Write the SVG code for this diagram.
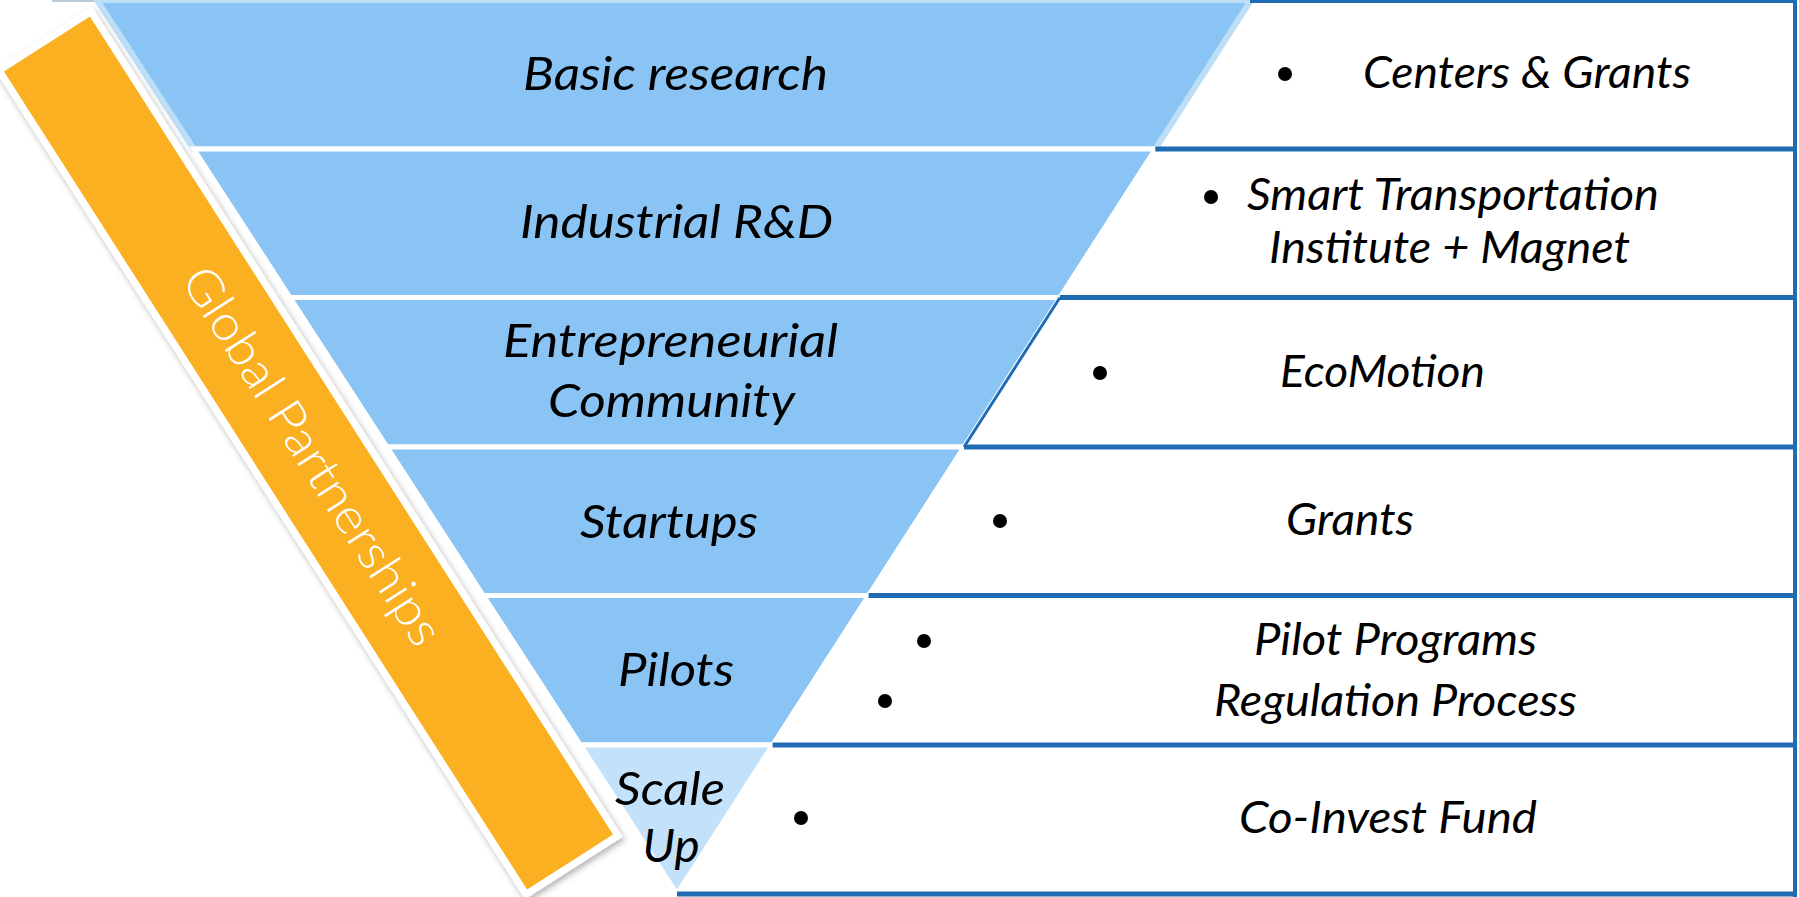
<svg xmlns="http://www.w3.org/2000/svg" width="1799" height="897" viewBox="0 0 1799 897">
<defs>
<style>
.band{fill:#89C4F4;stroke:#FFFFFF;stroke-width:5;stroke-linejoin:miter}
.lbl{font-family:Lato,"Open Sans","Liberation Sans",sans-serif;font-style:italic;font-size:46px;fill:#000}
.rt{font-family:Lato,"Open Sans","Liberation Sans",sans-serif;font-style:italic;font-size:44px;fill:#000}
.row{stroke:#1F6CB5;stroke-width:5;fill:none}
.dot{fill:#000}
</style>
<filter id="sh" x="-20%" y="-20%" width="140%" height="140%">
<feDropShadow dx="2" dy="3" stdDeviation="3" flood-color="#000" flood-opacity="0.3"/>
</filter>
</defs>
<rect width="1799" height="897" fill="#FFFFFF"/>
<line x1="52" y1="1" x2="1252" y2="1" stroke="#B9C9D6" stroke-width="2"/>

<g id="funnel">
<g id="basic-research">
<polygon points="97,0 1251,0 1155.3,149 193.7,149" fill="#89C4F4" stroke="#BCDEF6" stroke-width="6"/>
<text class="lbl" x="675.5" y="90" text-anchor="middle" textLength="305" lengthAdjust="spacingAndGlyphs">Basic research</text>
</g>
<g id="industrial-rd">
<polygon class="band" points="193.7,149 1155.3,149 1060,297.5 290,297.5"/>
<text class="lbl" x="676.5" y="238" text-anchor="middle" textLength="313" lengthAdjust="spacingAndGlyphs">Industrial R&amp;D</text>
</g>
<g id="entrepreneurial-community">
<polygon class="band" points="290,297.5 1060,297.5 964,447 387,447"/>
<text class="lbl" x="670.5" y="357" text-anchor="middle" textLength="335" lengthAdjust="spacingAndGlyphs">Entrepreneurial</text>
<text class="lbl" x="671.5" y="417" text-anchor="middle" textLength="247" lengthAdjust="spacingAndGlyphs">Community</text>
</g>
<g id="startups">
<polygon class="band" points="387,447 964,447 868.6,595.5 483.3,595.5"/>
<text class="lbl" x="669" y="538" text-anchor="middle" textLength="178" lengthAdjust="spacingAndGlyphs">Startups</text>
</g>
<g id="pilots">
<polygon class="band" points="483.3,595.5 868.6,595.5 772.6,745 580.4,745"/>
<text class="lbl" x="676" y="686" text-anchor="middle" textLength="116" lengthAdjust="spacingAndGlyphs">Pilots</text>
</g>
<g id="scale-up">
<polygon class="band" points="580.4,745 772.6,745 677,894" style="fill:#C3E1F8"/>
<text class="lbl" x="670" y="805" text-anchor="middle" textLength="110" lengthAdjust="spacingAndGlyphs">Scale</text>
<text class="lbl" x="671" y="862" text-anchor="middle" textLength="57" lengthAdjust="spacingAndGlyphs">Up</text>
</g>
</g>

<g id="connectors">
<line class="row" x1="1250" y1="1.5" x2="1797" y2="1.5" style="stroke-width:3"/>
<line class="row" x1="1155.3" y1="149" x2="1797" y2="149"/>
<line class="row" x1="1060" y1="297.5" x2="1797" y2="297.5"/>
<line class="row" x1="964" y1="447" x2="1797" y2="447"/>
<line class="row" x1="868.6" y1="595.5" x2="1797" y2="595.5"/>
<line class="row" x1="772.6" y1="745" x2="1797" y2="745"/>
<line class="row" x1="677" y1="894" x2="1797" y2="894"/>
<line class="row" x1="1795" y1="0" x2="1795" y2="897" style="stroke-width:4"/>
<line class="row" x1="1060" y1="297.5" x2="964" y2="447" style="stroke-width:3"/>
</g>

<g id="row-centers-grants">
<circle class="dot" cx="1285" cy="74" r="7"/>
<text class="rt" x="1363" y="88" textLength="328" lengthAdjust="spacingAndGlyphs">Centers &amp; Grants</text>
</g>
<g id="row-smart-transportation">
<circle class="dot" cx="1211" cy="197" r="7"/>
<text class="rt" x="1247" y="210" textLength="412" lengthAdjust="spacingAndGlyphs">Smart Transportation</text>
<text class="rt" x="1269" y="263" textLength="361" lengthAdjust="spacingAndGlyphs">Institute + Magnet</text>
</g>
<g id="row-ecomotion">
<circle class="dot" cx="1100" cy="373" r="7"/>
<text class="rt" x="1280" y="387" textLength="205" lengthAdjust="spacingAndGlyphs">EcoMotion</text>
</g>
<g id="row-grants">
<circle class="dot" cx="1000" cy="521" r="7"/>
<text class="rt" x="1286" y="535" textLength="128" lengthAdjust="spacingAndGlyphs">Grants</text>
</g>
<g id="row-pilot-programs">
<circle class="dot" cx="924" cy="641" r="7"/>
<circle class="dot" cx="885" cy="701" r="7"/>
<text class="rt" x="1254" y="655" textLength="283" lengthAdjust="spacingAndGlyphs">Pilot Programs</text>
<text class="rt" x="1214" y="716" textLength="363" lengthAdjust="spacingAndGlyphs">Regulation Process</text>
</g>
<g id="row-co-invest">
<circle class="dot" cx="801" cy="818" r="7"/>
<text class="rt" x="1239" y="833" textLength="298" lengthAdjust="spacingAndGlyphs">Co-Invest Fund</text>
</g>

<g id="global-partnerships">
<g filter="url(#sh)">
<g transform="translate(308.5,453) rotate(57.4)">
<rect x="-489" y="-54.5" width="978" height="109" fill="#FBB021" stroke="#FFFFFF" stroke-width="7"/>
</g>
</g>
<g transform="translate(308.5,453) rotate(57.4)">
<text x="4.5" y="15" text-anchor="middle" font-family="Lato,'Open Sans','Liberation Sans',sans-serif" font-weight="300" font-size="49" fill="#FFFFFF" textLength="439" lengthAdjust="spacingAndGlyphs">Global Partnerships</text>
</g>
</g>
</svg>
